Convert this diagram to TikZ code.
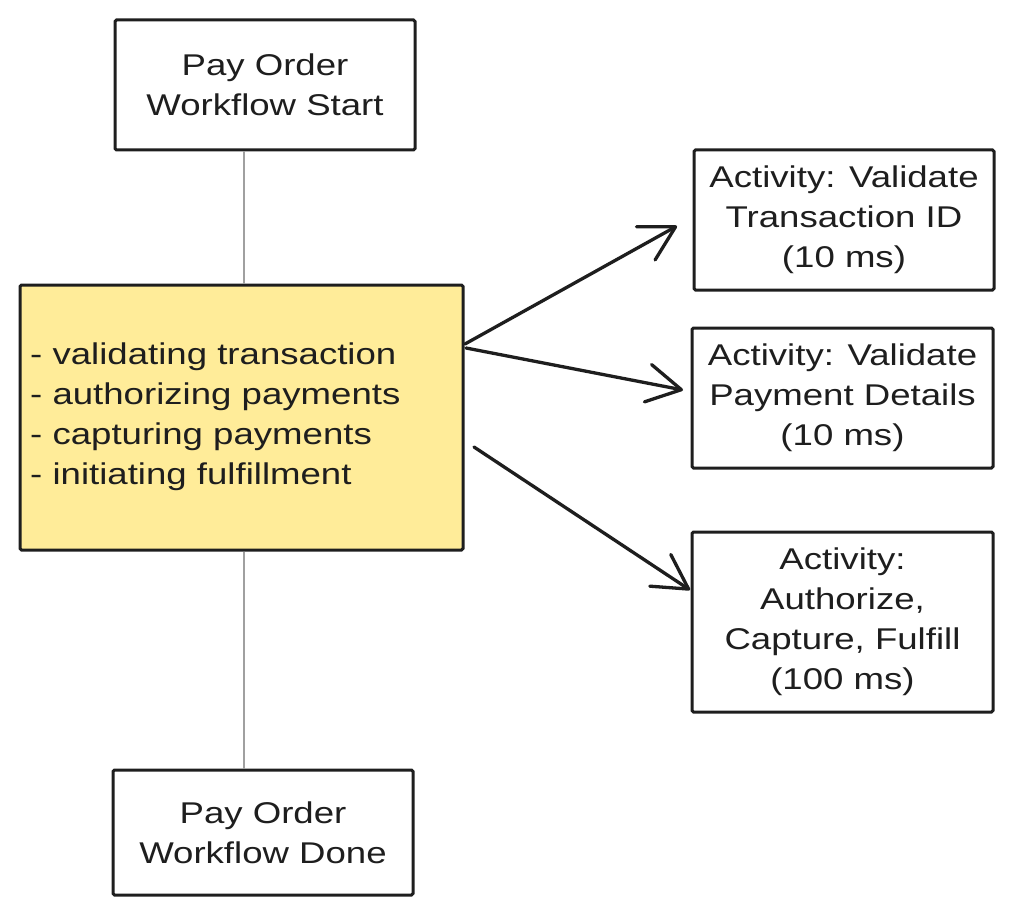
\documentclass[tikz,border=0pt]{standalone}
\usepackage{fontspec}
\setmainfont{Liberation Sans}[FakeStretch=1.22]
\usetikzlibrary{arrows.meta}
\definecolor{ink}{HTML}{1E1E1E}
\definecolor{note}{HTML}{FFEC99}
\definecolor{wire}{HTML}{A0A0A0}
\begin{document}
\begin{tikzpicture}[x=1pt,y=-1pt,
  box/.style={draw=ink,line width=3pt,fill=white,rounded corners=1.5pt,inner sep=0pt,
    align=center,font=\fontsize{30}{40}\selectfont,text=ink},
  conn/.style={draw=wire,line width=1.3pt},
  arr/.style={draw=ink,line width=3.3pt,line cap=round,
    -{Straight Barb[length=34pt,width=38pt,line width=3.3pt,round]}}]
\useasboundingbox (0,0) rectangle (1013,915);
% boxes
\node[box,minimum width=300pt,minimum height=130pt] (start) at (265,85) {Pay Order\\Workflow Start};
\node[box,minimum width=300pt,minimum height=125pt] (done) at (263,832.5) {Pay Order\\Workflow Done};
\node[box,fill=note,minimum width=443pt,minimum height=265pt] (work) at (241.5,417.5) {};
\node[anchor=west,align=left,font=\fontsize{30}{40}\selectfont,text=ink,inner sep=0pt] (list) at (30,417)
  {- validating transaction\\- authorizing payments\\- capturing payments\\- initiating fulfillment};
\node[box,minimum width=300pt,minimum height=140pt] (a1) at (844,220) {Activity: Validate\\Transaction ID\\(10 ms)};
\node[box,minimum width=301pt,minimum height=140pt] (a2) at (842.5,398) {Activity: Validate\\Payment Details\\(10 ms)};
\node[box,minimum width=301pt,minimum height=180pt] (a3) at (842.5,622) {Activity:\\Authorize,\\Capture, Fulfill\\(100 ms)};
% connectors
\draw[conn] (start.south -| 244,0) -- (work.north -| 244,0);
\draw[conn] (work.south -| 244,0) -- (done.north -| 244,0);
\coordinate (o1) at (465,344);
\coordinate (o2) at (466,348);
\coordinate (o3) at (474,447);
\draw[arr] (o1) -- (677,226);
\draw[arr] (o2) -- (683,390);
\draw[arr] (o3) -- (690,590);
\end{tikzpicture}
\end{document}
